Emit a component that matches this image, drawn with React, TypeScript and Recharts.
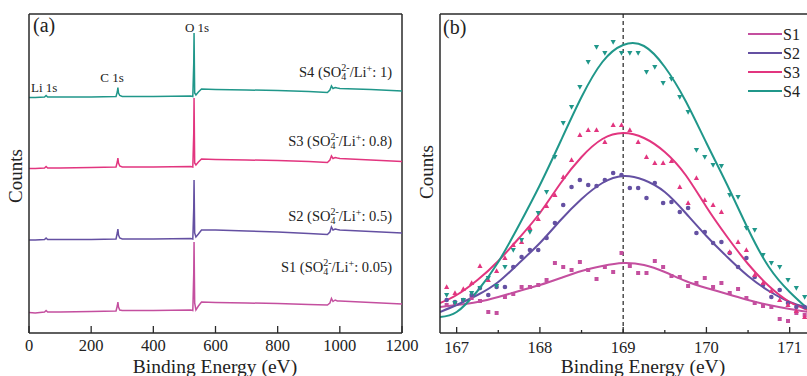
import { ComposedChart, Line, Scatter, XAxis, YAxis, ReferenceLine } from 'recharts'

// (a) survey spectra, binding energy in eV, counts in arbitrary units (stacked)
const surveyEnergy = [0, 20, 50, 55, 60, 100, 200, 280, 284, 286, 288, 292, 300, 400, 520, 527, 530, 531, 533, 537, 545, 555, 600, 700, 800, 900, 960, 968, 973, 978, 985, 992, 1000, 1100, 1200]
const surveyS1 = [20.5, 20, 21, 22.5, 21, 21, 21.5, 22, 27, 31, 26, 23, 22.5, 22.5, 23, 22.5, 60, 91, 30, 23, 27, 31, 30.5, 30, 29.5, 28.5, 28, 30, 34.5, 31.5, 33, 32, 32, 30.5, 29]
const surveyS2 = [93, 93, 93.5, 95, 93.5, 93.5, 93.5, 94, 100, 104, 98, 95, 94, 94, 94.5, 94, 125, 153, 100, 96, 99, 103, 103, 102, 101, 99.5, 98.5, 101, 106, 103, 104, 103.5, 103, 101.5, 100]
const surveyS3 = [164.5, 164.5, 165, 166.5, 165, 165, 165.5, 166, 171, 175, 170, 167, 166, 166, 166.5, 166, 200, 235, 170, 168, 171, 174, 173.5, 173, 172.5, 171.5, 170.5, 173, 177, 174.5, 175.5, 175, 174.5, 173, 171.5]
const surveyS4 = [235.5, 235.5, 236, 237.5, 236, 236, 236, 236.5, 241, 245.5, 240, 237.5, 236.5, 236.5, 237, 236.5, 270, 300, 240, 238, 241, 244, 243.5, 243, 242.5, 241.5, 240.5, 243, 247, 244.5, 245.5, 245, 244.5, 243.5, 242]
const surveyTicks = [0, 200, 400, 600, 800, 1000, 1200]

// (b) S 2p region: fitted curves
const fitEnergy = [166.8, 167, 167.25, 167.5, 167.75, 168, 168.25, 168.5, 168.75, 169, 169.25, 169.5, 169.75, 170, 170.25, 170.5, 170.75, 171, 171.22]
const fitS1 = [26, 28, 31, 36, 42, 48, 55, 62, 67, 70, 68, 61, 52, 45, 39, 33, 28, 24, 21]
const fitS2 = [21, 28, 38, 51, 70, 90, 113, 134, 150, 157, 153, 141, 120, 97, 76, 57, 42, 31, 25]
const fitS3 = [30, 38, 53, 72, 95, 120, 150, 176, 194, 200, 195, 181, 158, 126, 96, 69, 47, 31, 23]
const fitS4 = [16, 21, 42, 71, 108, 148, 192, 236, 271, 288, 287, 266, 232, 190, 148, 104, 66, 41, 24]

// (b) measured points
const pointEnergy = [166.88, 166.98, 167.08, 167.18, 167.28, 167.38, 167.48, 167.58, 167.68, 167.78, 167.88, 167.98, 168.08, 168.18, 168.28, 168.38, 168.48, 168.58, 168.68, 168.78, 168.88, 168.98, 169.08, 169.18, 169.28, 169.38, 169.48, 169.58, 169.68, 169.78, 169.88, 169.98, 170.08, 170.18, 170.28, 170.38, 170.48, 170.58, 170.68, 170.78, 170.88, 170.98, 171.08, 171.18]
const pointsS1 = [28, 30, 33, 35, 32, 21, 20, 36, 39, 46, 46, 48, 53, 70, 66, 63, 71, 63, 54, 66, 61, 80, 67, 60, 60, 72, 66, 57, 56, 47, 50, 55, 46, 50, 40, 44, 35, 30, 27, 26, 14, 12, 20, 18]
const pointsS2 = [33, 31, 33, 38, 45, 38, 46, 46, 66, 76, 83, 83, 95, 110, 128, 146, 153, 148, 147, 153, 160, 158, 145, 145, 135, 150, 130, 131, 121, 125, 100, 101, 90, 91, 80, 66, 75, 56, 48, 36, 43, 30, 26, 26]
const pointsS3 = [46, 40, 44, 50, 67, 53, 62, 75, 88, 91, 105, 114, 127, 138, 156, 173, 198, 203, 203, 191, 208, 208, 203, 191, 176, 170, 170, 172, 146, 130, 155, 133, 128, 121, 81, 91, 83, 58, 50, 42, 33, 28, 22, 16]
const pointsS4 = [38, 30, 33, 40, 45, 55, 47, 66, 83, 93, 101, 120, 141, 176, 210, 226, 246, 271, 286, 280, 291, 280, 280, 280, 261, 266, 250, 254, 236, 221, 183, 176, 168, 167, 138, 136, 105, 103, 78, 70, 66, 53, 45, 36]
const detailTicks = [167, 167.5, 168, 168.5, 169, 169.5, 170, 170.5, 171]

const colors = {
  S1: '#c44f9f',
  S2: '#6450a2',
  S3: '#e2357f',
  S4: '#20978a',
}
const serif = "'Liberation Serif', 'Times New Roman', Times, Tinos, 'Nimbus Roman', 'DejaVu Serif', serif"
const axisColor = '#2a2a2a'

const surveyData = surveyEnergy.map((e, i) => ({ e, s1: surveyS1[i], s2: surveyS2[i], s3: surveyS3[i], s4: surveyS4[i] }))
const pairs = (xs: number[], ys: number[]) => xs.map((x, i) => ({ x, y: ys[i] }))

function SurveyTick(props: any) {
  const { x, y, payload } = props
  return (
    <g>
      <line x1={x} x2={x} y1={y} y2={y - 7} stroke={axisColor} strokeWidth={1.3} />
      <text x={x} y={y + 18} textAnchor="middle" fontSize={16.5} style={{ fontFamily: serif }} fill="#222">{payload.value}</text>
    </g>
  )
}

function DetailTick(props: any) {
  const { x, y, payload } = props
  const major = Number.isInteger(payload.value)
  return (
    <g>
      <line x1={x} x2={x} y1={y} y2={y - (major ? 6 : 3)} stroke={axisColor} strokeWidth={1.3} />
      {major && <text x={x} y={y + 20} textAnchor="middle" fontSize={16.5} style={{ fontFamily: serif }} fill="#222">{payload.value}</text>}
    </g>
  )
}

const square = (c: string) => (p: any) => <rect x={p.cx - 2} y={p.cy - 2} width={4} height={4} fill={c} />
const circle = (c: string) => (p: any) => <circle cx={p.cx} cy={p.cy} r={2.3} fill={c} />
const triUp = (c: string) => (p: any) => <path d={`M${p.cx},${p.cy - 2.8} L${p.cx + 2.6},${p.cy + 2} L${p.cx - 2.6},${p.cy + 2} Z`} fill={c} />
const triDown = (c: string) => (p: any) => <path d={`M${p.cx},${p.cy + 2.8} L${p.cx + 2.6},${p.cy - 2} L${p.cx - 2.6},${p.cy - 2} Z`} fill={c} />

function SampleLabel({ x, y, name, ratio }: { x: number; y: number; name: string; ratio: string }) {
  return (
    <text x={x} y={y} textAnchor="end" fontSize={14.5} fill="#222">
      {name} (SO<tspan dy={3} fontSize={10}>4</tspan>
      <tspan dy={-9.5} dx={-5} fontSize={10}>2-</tspan>
      <tspan dy={6.5}>/Li</tspan>
      <tspan dy={-5.5} fontSize={10}>+</tspan>
      <tspan dy={5.5}>: {ratio})</tspan>
    </text>
  )
}

export default function App() {
  const legend = [
    { name: 'S1', y: 34 },
    { name: 'S2', y: 53 },
    { name: 'S3', y: 72 },
    { name: 'S4', y: 91 },
  ]

  return (
    <div style={{ position: 'absolute', left: 0, top: 0, width: 807, height: 376, overflow: 'hidden', background: '#fff', fontFamily: serif }}>
      <div style={{ position: 'absolute', left: 0, top: 0 }}>
        <ComposedChart width={430} height={376} data={surveyData} margin={{ top: 14, right: 28, bottom: 13, left: 28 }}>
          <XAxis dataKey="e" type="number" domain={[0, 1200]} ticks={surveyTicks} interval={0} height={30}
            tickSize={0} tickMargin={0} tickLine={false} tick={<SurveyTick />} axisLine={{ stroke: axisColor, strokeWidth: 1.5 }} />
          <YAxis type="number" domain={[0, 319]} width={1} tick={false} tickLine={false} axisLine={{ stroke: axisColor, strokeWidth: 1.5 }} />
          <ReferenceLine y={319} stroke={axisColor} strokeWidth={1.5} />
          <ReferenceLine x={1200} stroke={axisColor} strokeWidth={1.5} />
          <Line type="linear" dataKey="s1" stroke={colors.S1} strokeWidth={1.5} dot={false} activeDot={false} isAnimationActive={false} />
          <Line type="linear" dataKey="s2" stroke={colors.S2} strokeWidth={1.5} dot={false} activeDot={false} isAnimationActive={false} />
          <Line type="linear" dataKey="s3" stroke={colors.S3} strokeWidth={1.5} dot={false} activeDot={false} isAnimationActive={false} />
          <Line type="linear" dataKey="s4" stroke={colors.S4} strokeWidth={1.5} dot={false} activeDot={false} isAnimationActive={false} />
        </ComposedChart>
      </div>

      <div style={{ position: 'absolute', left: 400, top: 0 }}>
        <ComposedChart width={450} height={376} margin={{ top: 14, right: 42, bottom: 13, left: 39 }}>
          <XAxis dataKey="x" type="number" domain={[166.8, 171.22]} ticks={detailTicks} interval={0} height={30}
            tickSize={0} tickMargin={0} tickLine={false} tick={<DetailTick />} axisLine={{ stroke: axisColor, strokeWidth: 1.5 }} allowDataOverflow />
          <YAxis type="number" domain={[0, 319]} width={1} tick={false} tickLine={false} axisLine={{ stroke: axisColor, strokeWidth: 1.5 }} />
          <ReferenceLine y={319} stroke={axisColor} strokeWidth={1.5} />
          <ReferenceLine x={169} stroke="#222" strokeWidth={1.2} strokeDasharray="4 3" />
          <Scatter data={pairs(pointEnergy, pointsS1)} dataKey="y" shape={square(colors.S1)} isAnimationActive={false} />
          <Scatter data={pairs(pointEnergy, pointsS2)} dataKey="y" shape={circle(colors.S2)} isAnimationActive={false} />
          <Scatter data={pairs(pointEnergy, pointsS3)} dataKey="y" shape={triUp(colors.S3)} isAnimationActive={false} />
          <Scatter data={pairs(pointEnergy, pointsS4)} dataKey="y" shape={triDown(colors.S4)} isAnimationActive={false} />
          <Line data={pairs(fitEnergy, fitS1)} type="natural" dataKey="y" stroke={colors.S1} strokeWidth={2} dot={false} activeDot={false} isAnimationActive={false} />
          <Line data={pairs(fitEnergy, fitS2)} type="natural" dataKey="y" stroke={colors.S2} strokeWidth={2} dot={false} activeDot={false} isAnimationActive={false} />
          <Line data={pairs(fitEnergy, fitS3)} type="natural" dataKey="y" stroke={colors.S3} strokeWidth={2} dot={false} activeDot={false} isAnimationActive={false} />
          <Line data={pairs(fitEnergy, fitS4)} type="natural" dataKey="y" stroke={colors.S4} strokeWidth={2} dot={false} activeDot={false} isAnimationActive={false} />
        </ComposedChart>
      </div>

      {/* titles, panel labels, annotations and legend */}
      <svg width={807} height={376} style={{ position: 'absolute', left: 0, top: 0, pointerEvents: 'none', fontFamily: serif }}>
        <g fill="#222">
          <text x={33} y={32} fontSize={20}>(a)</text>
          <text x={443} y={34} fontSize={20}>(b)</text>
          <text x={197} y={31.5} fontSize={13} textAnchor="middle">O 1s</text>
          <text x={112} y={82} fontSize={13} textAnchor="middle">C 1s</text>
          <text x={31} y={92} fontSize={13}>Li 1s</text>
          <text x={215} y={373} fontSize={19.5} textAnchor="middle">Binding Energy (eV)</text>
          <text x={643} y={373} fontSize={19.5} textAnchor="middle">Binding Energy (eV)</text>
          <text x={22} y={176} fontSize={19} textAnchor="middle" transform="rotate(-90 22 176)">Counts</text>
          <text x={433} y={172} fontSize={19} textAnchor="middle" transform="rotate(-90 433 172)">Counts</text>
        </g>
        <SampleLabel x={392} y={77} name="S4" ratio="1" />
        <SampleLabel x={392} y={146} name="S3" ratio="0.8" />
        <SampleLabel x={392} y={221} name="S2" ratio="0.5" />
        <SampleLabel x={392} y={272} name="S1" ratio="0.05" />
        {legend.map(l => (
          <g key={l.name}>
            <line x1={748} x2={782} y1={l.y} y2={l.y} stroke={colors[l.name as keyof typeof colors]} strokeWidth={2} />
            <text x={783} y={l.y + 5.5} fontSize={16} fill="#222">{l.name}</text>
          </g>
        ))}
      </svg>
    </div>
  )
}
